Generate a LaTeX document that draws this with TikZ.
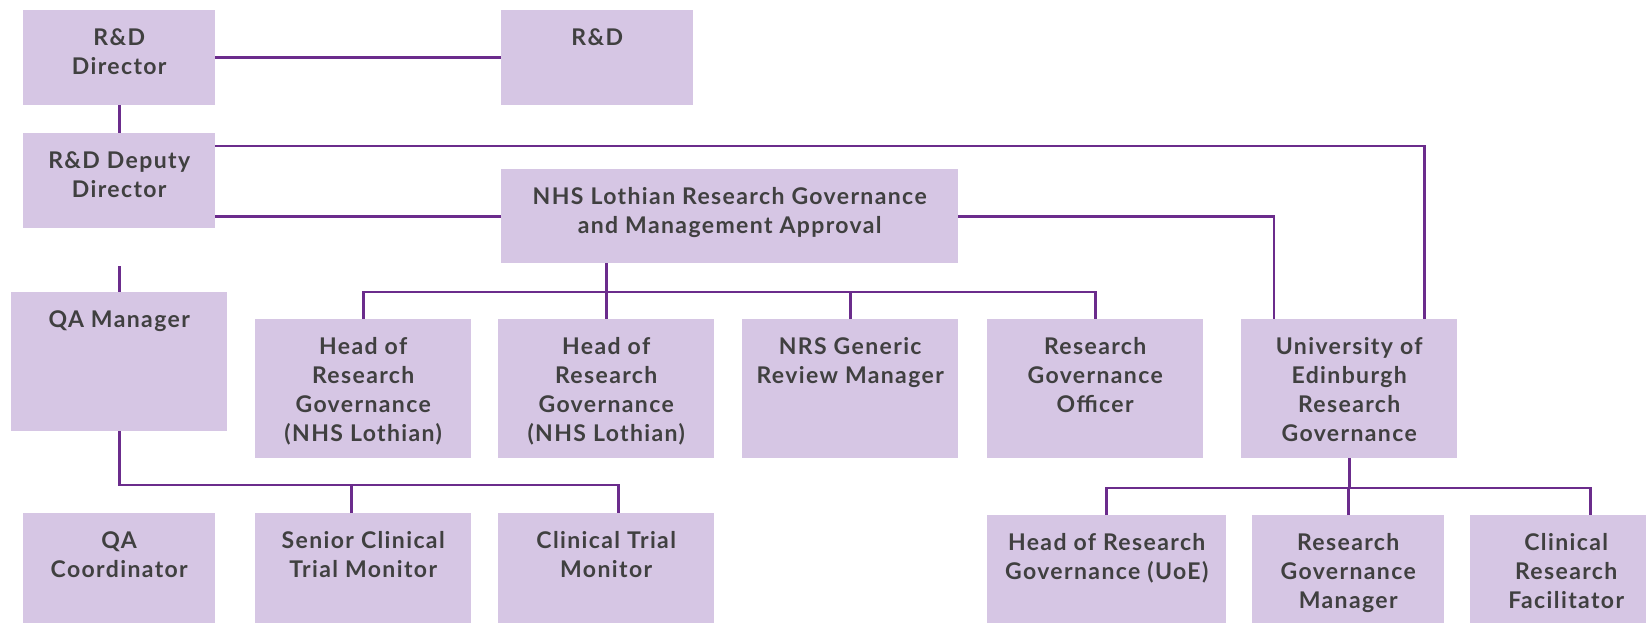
\documentclass[tikz,border=0pt]{standalone}
\usepackage{fontspec}
\setmainfont[LetterSpace=6]{Lato}
\usetikzlibrary{calc}
\definecolor{boxfill}{HTML}{D6C6E4}
\definecolor{linepurple}{HTML}{6B2C8C}
\definecolor{textgrey}{HTML}{404040}

\begin{document}
\begin{tikzpicture}
    [x=1pt,y=-1pt,%
      box/.style={fill=boxfill,anchor=north west,inner sep=0pt,
        minimum width=216pt,minimum height=139pt},%
      lbl/.style={anchor=north,align=center,inner sep=0pt,yshift=-18pt,
        text=textgrey,font=\fontsize{23}{29}\selectfont\bfseries},%
      conn/.style={draw=linepurple,line width=2.6pt}]
    \useasboundingbox (0,0) rectangle (1646,622);
    % directors
    \node[box,minimum width=192pt,minimum height=95pt,
          label={[lbl]north:R\&D\\Director}] (dir) at (23,10) {};
    \node[box,minimum width=192pt,minimum height=95pt,
          label={[lbl]north:R\&D}] (rd) at (501,10) {};
    \node[box,minimum width=192pt,minimum height=95pt,
          label={[lbl]north:R\&D Deputy\\Director}] (dep) at (23,133) {};
    \node[box,minimum width=457pt,minimum height=94pt,
          label={[lbl]north:NHS Lothian Research Governance\\and Management Approval}] (nhs) at (501,169) {};
    % middle row
    \node[box,label={[lbl]north:QA Manager}] (qam) at (11,292) {};
    \node[box,label={[lbl]north:Head of\\Research\\Governance\\(NHS Lothian)}] (h1) at (255,319) {};
    \node[box,label={[lbl]north:Head of\\Research\\Governance\\(NHS Lothian)}] (h2) at (498,319) {};
    \node[box,label={[lbl]north:NRS Generic\\Review Manager}] (nrs) at (742,319) {};
    \node[box,label={[lbl]north:Research\\Governance\\Officer}] (rgo) at (987,319) {};
    \node[box,label={[lbl]north:University of\\Edinburgh\\Research\\Governance}] (uoe) at (1241,319) {};
    % bottom row
    \node[box,minimum width=192pt,label={[lbl]north:QA\\Coordinator}] (qac) at (23,513) {};
    \node[box,label={[lbl]north:Senior Clinical\\Trial Monitor}] (sctm) at (255,513) {};
    \node[box,label={[lbl]north:Clinical Trial\\Monitor}] (ctm) at (498,513) {};
    \node[box,minimum width=239pt,label={[lbl]north:Head of Research\\Governance (UoE)}] (hrgu) at (987,515) {};
    \node[box,minimum width=192pt,label={[lbl]north:Research\\Governance\\Manager}] (rgm) at (1252,515) {};
    \node[box,minimum width=192pt,label={[lbl]north:Clinical\\Research\\Facilitator}] (crf) at (1470,515) {};
    % connectors
    \draw[conn] (dir.east) -- (rd.west);
    \draw[conn] (dir.south) -- (dep.north);
    \draw[conn] ($(dep.north east)+(0,13)$) -| ($(uoe.north east)+(-33,0)$);
    \draw[conn] (dep.east |- nhs.west) -- (nhs.west);
    \draw[conn] (nhs.east) -| ($(uoe.north west)+(33,0)$);
    \coordinate (nbus) at (0,292);
    \draw[conn] (nhs.south -| h2.north) -- (h2.north);
    \draw[conn] (h1.north) |- (nbus -| rgo.north) -- (rgo.north);
    \draw[conn] (nrs.north) -- (nrs.north |- nbus);
    \coordinate (qtop) at ($(qam.north)+(0,-26)$);
    \draw[conn] (qtop) -- (qam.north);
    \coordinate (qbus) at (0,485);
    \coordinate (sdrop) at ($(sctm.north)+(-11.5,0)$);
    \coordinate (cdrop) at ($(ctm.north)+(12,0)$);
    \draw[conn] (qam.south) |- (cdrop |- qbus) -- (cdrop);
    \draw[conn] (sdrop) -- (sdrop |- qbus);
    \coordinate (ubus) at (0,488);
    \coordinate (fdrop) at ($(crf.north)+(24,0)$);
    \draw[conn] (uoe.south) -- (uoe.south |- ubus);
    \draw[conn] (hrgu.north) |- (fdrop |- ubus) -- (fdrop);
    \draw[conn] (rgm.north) -- (rgm.north |- ubus);
\end{tikzpicture}
\end{document}
